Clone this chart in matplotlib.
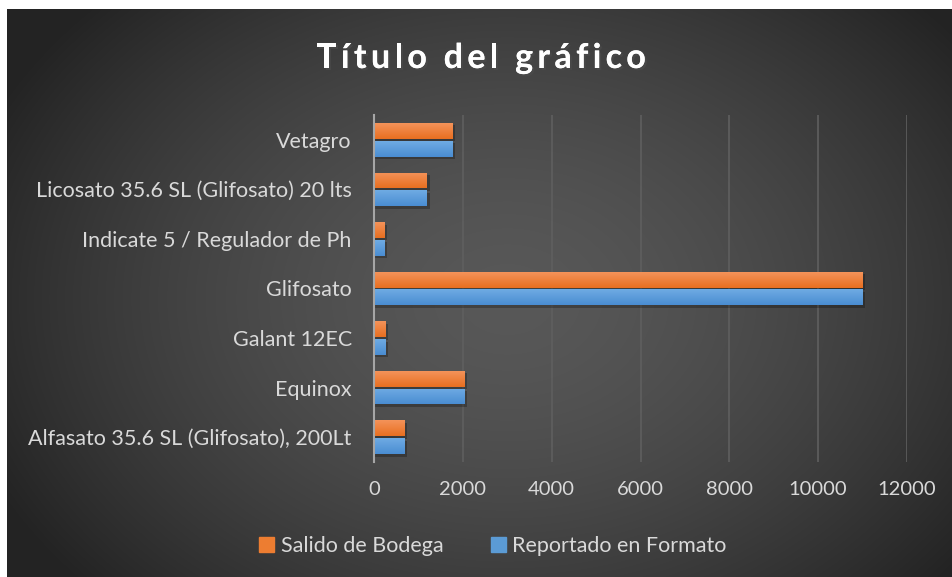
import numpy as np
import matplotlib
matplotlib.use("Agg")
import matplotlib.pyplot as plt
import matplotlib.patheffects as pe
from matplotlib.patches import Rectangle

categories = ["Alfasato 35.6 SL (Glifosato), 200Lt", "Equinox", "Galant 12EC",
              "Glifosato", "Indicate 5 / Regulador de Ph",
              "Licosato 35.6 SL (Glifosato) 20 lts", "Vetagro"]
salido = [690, 2040, 265, 11000, 240, 1190, 1770]
reportado = [690, 2040, 265, 11000, 240, 1190, 1770]
xticks = [0, 2000, 4000, 6000, 8000, 10000, 12000]
series_names = ["Salido de Bodega", "Reportado en Formato"]
title = "Título del gráfico"

plt.rcParams['font.family'] = ['Lato', 'DejaVu Sans']

fig = plt.figure(figsize=(9.52, 5.77), dpi=100)
fig.patch.set_facecolor('white')

# dark radial background (thin white strip top/left like the screenshot)
bg = fig.add_axes([7 / 952, 0, 945 / 952, 568 / 577], zorder=-10)
yy, xx = np.mgrid[0:568, 0:945]
r = np.sqrt(((xx - 500) / 560.0) ** 2 + ((yy - 290) / 420.0) ** 2)
shade = np.clip(0.345 - 0.2 * r ** 1.6, 0.14, 0.36)
bg.imshow(np.dstack([shade] * 3), aspect='auto', extent=[0, 1, 0, 1], origin='upper')
bg.axis('off')

ax = fig.add_axes([374 / 952, 1 - 462 / 577, (907 - 374) / 952, (462 - 115) / 577])
ax.patch.set_alpha(0)

y = np.arange(len(categories))
h = 0.32
off = 0.18

def grad_bars(ypos, vals, top, bottom):
    bars = ax.barh(ypos, vals, height=h, color=bottom, zorder=3)
    g = np.linspace(0, 1, 64)[:, None]
    top = np.array(matplotlib.colors.to_rgb(top))
    bottom = np.array(matplotlib.colors.to_rgb(bottom))
    img = top[None, None, :] * (1 - g[..., None]) + bottom[None, None, :] * g[..., None]
    for b in bars:
        x0, y0, w, hh = b.get_x(), b.get_y(), b.get_width(), b.get_height()
        # soft shadow under each bar
        ax.add_patch(Rectangle((x0, y0 - 0.05), w + 60, hh, color='black',
                               alpha=0.25, zorder=2, lw=0))
        im = ax.imshow(img, extent=[x0, x0 + w, y0, y0 + hh], aspect='auto',
                       origin='upper', zorder=4)
        im.set_clip_path(b)
    return bars

grad_bars(y + off, salido, '#f4935a', '#e86f20')
grad_bars(y - off, reportado, '#6fabe3', '#4a8dd2')

ax.set_xlim(0, 12000)
ax.set_ylim(-0.5, len(categories) - 0.5)
ax.set_xticks(xticks)
ax.set_xticklabels([str(t) for t in xticks])
ax.set_yticks(y)
ax.set_yticklabels(categories)
ax.tick_params(axis='both', length=0, colors='#d9d9d9')
ax.tick_params(axis='y', pad=16, labelsize=15.5)
ax.tick_params(axis='x', pad=14, labelsize=14.5)
ax.grid(axis='x', color='#5f5f5f', lw=1.2, zorder=1)
for s in ['top', 'right', 'bottom']:
    ax.spines[s].set_visible(False)
ax.spines['left'].set_color('#a6a6a6')
ax.spines['left'].set_linewidth(1.5)
ax.spines['left'].set_zorder(5)

# title with letter spacing, one character at a time
renderer = fig.canvas.get_renderer()
tkw = dict(fontsize=24.5, fontweight='bold', color='white')
spacing = 4.3
widths = []
for i in range(len(title) + 1):
    t = fig.text(0, 0, title[:i] + '|', **tkw)
    bar_w = fig.text(0, 0, '|', **tkw)
    widths.append(t.get_window_extent(renderer).width - bar_w.get_window_extent(renderer).width)
    t.remove()
    bar_w.remove()
total = widths[-1] + spacing * (len(title) - 1)
x_start = 481 - total / 2
for i, ch in enumerate(title):
    xpx = x_start + widths[i] + spacing * i
    fig.text(xpx / 952, 1 - 68 / 577, ch, ha='left', va='baseline', **tkw,
             path_effects=[pe.withSimplePatchShadow(offset=(1.5, -1.5), alpha=0.6),
                           pe.Normal()])

handles = [Rectangle((0, 0), 1, 1, color='#ed7d31'), Rectangle((0, 0), 1, 1, color='#5b9bd5')]
leg = fig.legend(handles, series_names, loc='center', bbox_to_anchor=(0.518, 0.054),
                 ncol=2, frameon=False, fontsize=15.5, handlelength=0.7,
                 handleheight=0.7, handletextpad=0.3, columnspacing=2.2)
for t in leg.get_texts():
    t.set_color('#d9d9d9')

fig.savefig('out.png', dpi=100)
